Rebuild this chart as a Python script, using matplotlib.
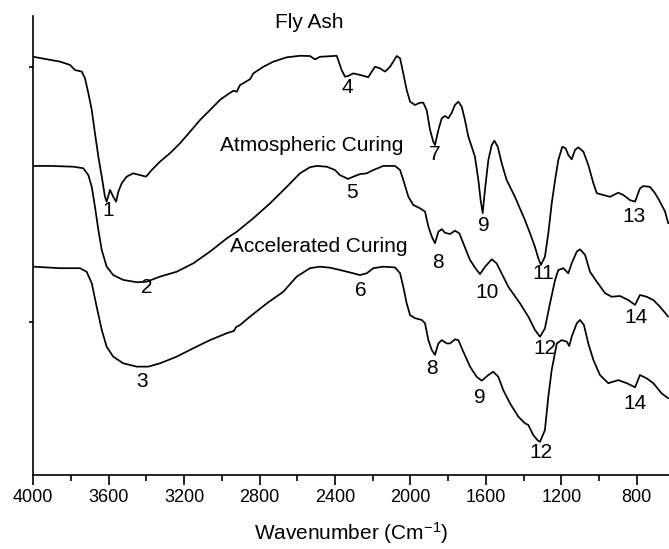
import matplotlib
matplotlib.use("Agg")
import matplotlib.pyplot as plt
from matplotlib.ticker import MultipleLocator

plt.rcParams['font.family'] = ['Liberation Sans', 'DejaVu Sans']
plt.rcParams['mathtext.fontset'] = 'custom'
plt.rcParams['mathtext.rm'] = 'Liberation Sans'
plt.rcParams['mathtext.it'] = 'Liberation Sans:italic'
plt.rcParams['mathtext.bf'] = 'Liberation Sans:bold'

# ---- data (wavenumber cm^-1, transmittance a.u.) ----
fly_w = [4000, 3858, 3805, 3779, 3743, 3726, 3708, 3690, 3673, 3655, 3637, 3620, 3611, 3593,
         3576, 3561, 3549, 3531, 3505, 3470, 3434, 3402, 3372, 3328, 3275, 3222, 3169, 3116,
         3063, 3010, 2974, 2939, 2921, 2904, 2851, 2833, 2780, 2727, 2656, 2586, 2533, 2506,
         2480, 2391, 2365, 2347, 2330, 2303, 2268, 2224, 2188, 2162, 2135, 2108, 2073, 2055,
         2038, 2020, 2002, 1976, 1949, 1932, 1914, 1896, 1879, 1870, 1852, 1834, 1817, 1799,
         1781, 1764, 1746, 1728, 1711, 1693, 1675, 1658, 1640, 1628, 1617, 1605, 1587, 1569,
         1555, 1537, 1516, 1490, 1446, 1393, 1366, 1340, 1322, 1308, 1287, 1269, 1251, 1233,
         1216, 1195, 1177, 1163, 1145, 1127, 1110, 1083, 1057, 1030, 1012, 977, 942, 898, 871,
         836, 809, 783, 765, 730, 703, 677, 650, 633]
fly_t = [1.040, 1.021, 1.008, 0.988, 0.982, 0.956, 0.897, 0.831, 0.740, 0.648, 0.570, 0.491,
         0.472, 0.518, 0.491, 0.472, 0.511, 0.544, 0.570, 0.583, 0.576, 0.570, 0.596, 0.629,
         0.662, 0.701, 0.746, 0.792, 0.831, 0.871, 0.890, 0.907, 0.903, 0.929, 0.952, 0.975,
         1.001, 1.021, 1.038, 1.044, 1.043, 1.030, 1.040, 1.044, 0.988, 0.962, 0.965, 0.975,
         0.969, 0.960, 1.001, 0.995, 0.982, 1.001, 1.043, 1.034, 0.975, 0.910, 0.864, 0.851,
         0.860, 0.860, 0.831, 0.753, 0.707, 0.694, 0.753, 0.799, 0.808, 0.799, 0.821, 0.851,
         0.864, 0.844, 0.792, 0.727, 0.687, 0.648, 0.557, 0.478, 0.427, 0.518, 0.635, 0.694,
         0.711, 0.687, 0.622, 0.557, 0.491, 0.400, 0.348, 0.295, 0.250, 0.224, 0.256, 0.348,
         0.465, 0.557, 0.635, 0.687, 0.681, 0.655, 0.638, 0.675, 0.685, 0.668, 0.616, 0.544,
         0.505, 0.498, 0.491, 0.507, 0.498, 0.478, 0.472, 0.524, 0.533, 0.530, 0.505, 0.472,
         0.433, 0.387]

atm_w = [4000, 3911, 3788, 3735, 3708, 3690, 3673, 3655, 3637, 3611, 3576, 3523, 3452, 3399,
         3328, 3240, 3152, 3063, 2974, 2921, 2833, 2745, 2656, 2586, 2533, 2497, 2444, 2400,
         2374, 2330, 2303, 2268, 2232, 2197, 2144, 2082, 2055, 2038, 2011, 1985, 1949, 1923,
         1905, 1887, 1870, 1852, 1834, 1817, 1790, 1764, 1741, 1720, 1684, 1649, 1631, 1605,
         1569, 1543, 1508, 1481, 1419, 1375, 1340, 1313, 1287, 1260, 1233, 1216, 1189, 1163,
         1145, 1118, 1101, 1074, 1048, 1012, 968, 933, 889, 845, 809, 783, 747, 712, 677, 633]
atm_t = [0.612, 0.612, 0.609, 0.603, 0.576, 0.530, 0.452, 0.361, 0.282, 0.217, 0.184, 0.165,
         0.156, 0.158, 0.178, 0.197, 0.230, 0.276, 0.328, 0.354, 0.407, 0.465, 0.530, 0.583,
         0.607, 0.612, 0.609, 0.596, 0.576, 0.561, 0.570, 0.580, 0.583, 0.596, 0.612, 0.612,
         0.596, 0.557, 0.491, 0.459, 0.446, 0.433, 0.374, 0.335, 0.309, 0.354, 0.364, 0.350,
         0.345, 0.358, 0.348, 0.309, 0.243, 0.204, 0.188, 0.216, 0.246, 0.230, 0.178, 0.138,
         0.073, 0.021, -0.031, -0.058, -0.025, 0.073, 0.165, 0.204, 0.211, 0.191, 0.230, 0.276,
         0.285, 0.263, 0.197, 0.158, 0.113, 0.099, 0.102, 0.086, 0.067, 0.106, 0.099, 0.086,
         0.060, 0.021]

acc_w = [4000, 3858, 3752, 3717, 3690, 3664, 3637, 3611, 3576, 3523, 3452, 3390, 3328, 3240,
         3152, 3063, 2974, 2936, 2925, 2904, 2851, 2762, 2674, 2603, 2533, 2480, 2427, 2374,
         2303, 2268, 2232, 2197, 2144, 2082, 2055, 2038, 2020, 2002, 1976, 1940, 1923, 1905,
         1887, 1870, 1852, 1834, 1808, 1790, 1764, 1746, 1720, 1684, 1649, 1622, 1587, 1561,
         1534, 1508, 1472, 1428, 1393, 1375, 1349, 1327, 1313, 1287, 1269, 1251, 1224, 1198,
         1171, 1158, 1145, 1118, 1101, 1080, 1057, 1030, 995, 951, 898, 853, 809, 783, 747,
         712, 668, 633]
acc_t = [0.217, 0.211, 0.211, 0.197, 0.152, 0.060, -0.031, -0.097, -0.136, -0.162, -0.175,
         -0.175, -0.162, -0.136, -0.103, -0.071, -0.044, -0.035, -0.020, -0.012, 0.021, 0.073,
         0.119, 0.178, 0.211, 0.217, 0.213, 0.204, 0.191, 0.184, 0.191, 0.211, 0.217, 0.214,
         0.191, 0.138, 0.073, 0.027, 0.015, 0.008, -0.005, -0.071, -0.110, -0.129, -0.084,
         -0.071, -0.084, -0.084, -0.068, -0.071, -0.116, -0.175, -0.215, -0.230, -0.208,
         -0.195, -0.215, -0.267, -0.319, -0.371, -0.397, -0.404, -0.443, -0.463, -0.470,
         -0.424, -0.293, -0.188, -0.084, -0.071, -0.077, -0.094, -0.058, -0.005, 0.008, -0.012,
         -0.084, -0.149, -0.208, -0.240, -0.228, -0.240, -0.256, -0.208, -0.221, -0.240,
         -0.280, -0.299]

series_labels = ["Fly Ash", "Atmospheric Curing", "Accelerated Curing"]
series_label_pos = [(2538, 1.173), (2524, 0.694), (2485, 0.298)]

peak_labels = ["1", "2", "3", "4", "5", "6", "7", "8", "8", "9", "9", "10", "11", "12", "12",
               "13", "14", "14"]
peak_w = [3604, 3397, 3424, 2336, 2310, 2262, 1870, 1854, 1886, 1610, 1631, 1594, 1297, 1286,
          1308, 814, 804, 809]
peak_t = [0.439, 0.137, -0.235, 0.918, 0.506, 0.122, 0.655, 0.235, -0.184, 0.380, -0.298,
          0.114, 0.192, -0.102, -0.510, 0.412, 0.016, -0.318]

xticks = [4000, 3600, 3200, 2800, 2400, 2000, 1600, 1200, 800]

# ---- figure ----
W, H = 669, 549
fig = plt.figure(figsize=(W / 100, H / 100), dpi=100)
ax = fig.add_axes([33.3 / W, (H - 475) / H, (669 - 33.3) / W, (475 - 16) / H])

for w, t in [(fly_w, fly_t), (atm_w, atm_t), (acc_w, acc_t)]:
    ax.plot(w, t, color='black', lw=1.25, solid_joinstyle='round', solid_capstyle='round')

ax.set_xlim(4000, 629)
ax.set_ylim(-0.6, 1.2)
ax.set_xticks(xticks)
ax.xaxis.set_minor_locator(MultipleLocator(200))
ax.set_yticks([0, 1])
ax.set_yticklabels([])
ax.spines['top'].set_visible(False)
ax.spines['right'].set_visible(False)
for s in ['left', 'bottom']:
    ax.spines[s].set_linewidth(1.2)
ax.tick_params(axis='x', which='major', direction='out', length=7, width=1.2, labelsize=13, pad=3)
ax.tick_params(axis='x', which='minor', direction='out', length=4, width=1.2)
ax.tick_params(axis='y', which='major', direction='out', length=3, width=1.2)

for lab, (x, y) in zip(series_labels, series_label_pos):
    ax.text(x, y, lab, fontsize=15, ha='center', va='center')
for lab, x, y in zip(peak_labels, peak_w, peak_t):
    ax.text(x, y, lab, fontsize=15, ha='center', va='center')

ax.set_xlabel("Wavenumber (Cm$^{-1}$)", fontsize=15, labelpad=10)

fig.savefig("out.png", dpi=100)
